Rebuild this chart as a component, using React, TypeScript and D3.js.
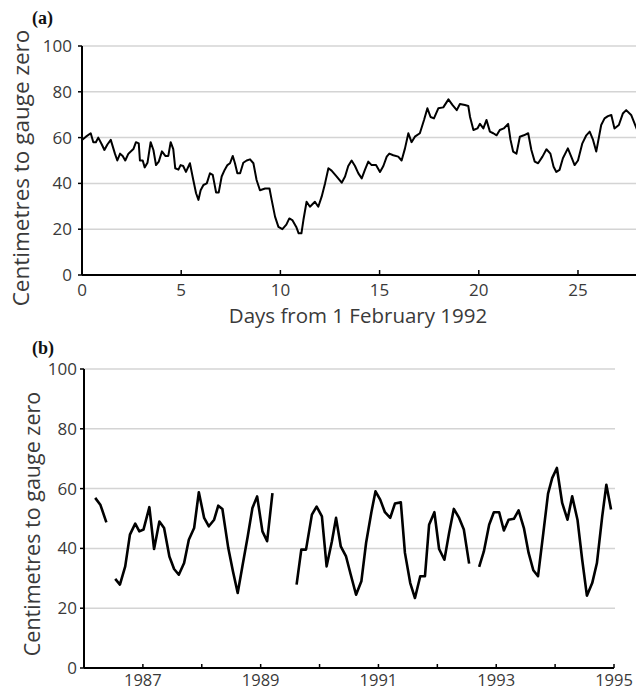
import React from "react";
import * as d3 from "d3";

// Panel (a): hourly-ish water level, February 1992
const aDays = [0,0.2,0.44,0.57,0.7,0.82,1.0,1.13,1.28,1.45,1.66,1.78,1.92,2.05,2.18,2.34,2.47,2.59,2.72,2.86,2.92,3.06,3.16,3.3,3.46,3.6,3.73,3.87,4.03,4.2,4.35,4.47,4.6,4.7,4.86,4.97,5.1,5.24,5.44,5.61,5.75,5.87,5.98,6.12,6.29,6.45,6.59,6.76,6.89,7.04,7.19,7.33,7.46,7.6,7.71,7.83,7.97,8.13,8.3,8.47,8.64,8.8,8.97,9.23,9.45,9.56,9.73,9.9,10.1,10.3,10.45,10.6,10.8,10.92,11.06,11.16,11.32,11.49,11.74,11.91,12.08,12.25,12.42,12.58,12.84,13.09,13.26,13.42,13.59,13.76,13.93,14.1,14.26,14.43,14.6,14.82,15.02,15.19,15.36,15.49,15.69,15.94,16.11,16.28,16.45,16.61,16.78,17.03,17.24,17.41,17.57,17.74,17.96,18.21,18.47,18.68,18.89,19.05,19.3,19.47,19.56,19.73,19.93,20.06,20.23,20.39,20.56,20.73,20.9,21.06,21.26,21.48,21.6,21.73,21.9,22.07,22.27,22.49,22.65,22.82,22.99,23.21,23.41,23.61,23.77,23.91,24.07,24.24,24.49,24.66,24.83,25.0,25.22,25.42,25.59,25.76,25.92,26.17,26.34,26.51,26.68,26.84,27.06,27.26,27.43,27.68,27.85,28.0];
const aLevels = [59,60.4,61.9,58,58,60,57,54.6,57,59,53,50,53,52,50,53,54,55,58,57.5,50,50,47,49,58,54.6,48,49.5,54,52,52,58,55,46.6,46,48,47.6,45,48.8,41.5,35.7,32.8,37,39.3,40,44.4,43.7,36,36,43,45.9,48,48.8,52,48.8,44.4,44.4,49,50,50.5,48.8,41.5,37,37.8,37.8,32.8,25.5,21,20,22,24.7,24,21,18.2,18.2,24,32,29.8,32,29.8,34.2,40,46.6,45.6,43,40.3,43,47.6,50,47.6,44.4,42.2,45.9,49.5,48,48,45,47.6,51.7,53,52.3,51.7,50,55.3,61.9,58,60.4,61.9,67.7,72.8,69,68.4,72.8,73.2,76.7,74.2,72,74.7,74.2,73.8,69,63.3,64,66,64,67.7,62.6,61.9,61,63.3,64,66,59,53.9,53,60.4,61,61.9,54.6,49.5,48.8,51.7,54.9,53,47.3,45,45.9,51,55.3,51.7,48,50,57.5,61,62.6,59,53.9,65.5,68.4,69.4,69.9,64,65.5,70.5,72,69.9,66.2,63];
const aXTicks = [0, 5, 10, 15, 20, 25];
const yTicks = [0, 20, 40, 60, 80, 100];

// Panel (b): monthly water level 1986-1995 (null = gap)
const bYears = [1986.19,1986.28,1986.38,1986.45,
  1986.53,1986.61,1986.70,1986.78,1986.87,1986.94,1987.01,1987.11,1987.19,1987.28,1987.36,1987.45,1987.53,1987.61,1987.70,1987.78,1987.87,1987.95,1988.04,1988.12,1988.21,1988.28,1988.35,1988.45,1988.53,1988.61,1988.69,1988.78,1988.86,1988.94,1989.03,1989.11,1989.20,1989.4,
  1989.61,1989.69,1989.77,1989.87,1989.95,1990.04,1990.12,1990.21,1990.28,1990.36,1990.45,1990.53,1990.62,1990.71,1990.79,1990.88,1990.95,1991.03,1991.11,1991.20,1991.28,1991.38,1991.45,1991.54,1991.62,1991.71,1991.79,1991.86,1991.95,1992.03,1992.12,1992.20,1992.28,1992.37,1992.45,1992.54,1992.62,
  1992.71,1992.79,1992.88,1992.96,1993.05,1993.13,1993.21,1993.30,1993.38,1993.47,1993.55,1993.63,1993.71,1993.80,1993.88,1993.95,1994.03,1994.12,1994.21,1994.29,1994.38,1994.46,1994.54,1994.63,1994.71,1994.80,1994.87,1994.95];
const bLevels = [56.9,54.5,48.7,null,
  29.8,27.9,34,44.6,48.3,45.7,46.3,53.8,39.8,49,46.8,37.3,33.1,31.2,35.1,42.9,46.8,58.8,50.2,47.4,49.6,54.3,53.2,40.1,32.3,25.1,34,44,53.5,57.4,45.7,42.4,58.5,null,
  27.9,39.6,39.6,51.3,54,50.7,34,42.4,50.2,40.7,37.3,31.2,24.5,29,41.8,52.1,59.1,56.3,52.1,50.2,55,55.4,38.5,28.4,23.4,30.7,30.7,47.9,52.1,39.8,36.2,45.2,53.2,50.2,46.3,34.9,null,
  33.8,39,47.9,52.1,52.1,46,49.6,49.9,52.7,46.8,38.5,32.7,30.7,45.2,58.3,63.5,66.9,55.2,49.6,57.4,49.6,36.2,24.2,28.4,35.1,50.7,61.3,53];
const bXTicks = [1986, 1987, 1988, 1989, 1990, 1991, 1992, 1993, 1994, 1995];
const bXLabels = [1987, 1989, 1991, 1993, 1995];

const FONT = "'Open Sans', 'Noto Sans', sans-serif";
const TXT = "#3a3a3a";
const GRID = "#d4d4d4";

export default function App() {
  // panel a scales
  const ax = d3.scaleLinear().domain([0, 28]).range([82, 637.5]);
  const ay = d3.scaleLinear().domain([0, 100]).range([275, 46]);
  // panel b scales
  const bx = d3.scaleLinear().domain([1986, 1995]).range([84, 614]);
  const by = d3.scaleLinear().domain([0, 100]).range([668, 369]);

  const aPts = aDays.map((d, i) => [d, aLevels[i]] as [number, number]);
  const aLine = d3.line<[number, number]>().x(d => ax(d[0])).y(d => ay(d[1]));
  const bPts = bYears.map((d, i) => [d, bLevels[i]] as [number, number | null]);
  const bLine = d3.line<[number, number | null]>()
    .defined(d => d[1] !== null)
    .x(d => bx(d[0]))
    .y(d => by(d[1] as number));

  return (
    <svg width={636} height={692} style={{ position: "absolute", left: 0, top: 0, background: "#fff" }}>
      <rect x={0} y={0} width={636} height={692} fill="#fff" />
      {/* ---------- Panel (a) ---------- */}
      <text x={32} y={24} fontFamily="'Liberation Serif', 'DejaVu Serif', serif" fontWeight="bold" fontSize={18} fill="#111">(a)</text>
      {yTicks.filter(t => t > 0).map(t => (
        <line key={"ag" + t} x1={ax(0)} x2={636} y1={ay(t)} y2={ay(t)} stroke={GRID} strokeWidth={1.5} />
      ))}
      {yTicks.map(t => (
        <g key={"ayt" + t}>
          <line x1={ax(0) - 4} x2={ax(0)} y1={ay(t)} y2={ay(t)} stroke="#000" strokeWidth={1.5} />
          <text x={72} y={ay(t)} dy="0.35em" textAnchor="end" fontFamily={FONT} fontSize={17} fill={TXT}>{t}</text>
        </g>
      ))}
      {aXTicks.map(t => (
        <g key={"axt" + t}>
          <line x1={ax(t)} x2={ax(t)} y1={ay(0)} y2={ay(0) - 5} stroke="#000" strokeWidth={1.5} />
          <text x={ax(t)} y={296} textAnchor="middle" fontFamily={FONT} fontSize={17} fill={TXT}>{t}</text>
        </g>
      ))}
      <line x1={ax(0)} x2={ax(0)} y1={ay(100)} y2={ay(0)} stroke="#000" strokeWidth={2} />
      <line x1={ax(0)} x2={636} y1={ay(0)} y2={ay(0)} stroke="#000" strokeWidth={2} />
      <path d={aLine(aPts) || ""} fill="none" stroke="#000" strokeWidth={2} strokeLinejoin="round" />
      <text x={358} y={323} textAnchor="middle" fontFamily={FONT} fontSize={20.5} fill={TXT}>Days from 1 February 1992</text>
      <text transform="translate(29,168) rotate(-90)" textAnchor="middle" fontFamily={FONT} fontSize={22.5} fill={TXT}>Centimetres to gauge zero</text>

      {/* ---------- Panel (b) ---------- */}
      <text x={32} y={354} fontFamily="'Liberation Serif', 'DejaVu Serif', serif" fontWeight="bold" fontSize={18} fill="#111">(b)</text>
      {yTicks.filter(t => t > 0).map(t => (
        <line key={"bg" + t} x1={bx(1986)} x2={615} y1={by(t)} y2={by(t)} stroke={GRID} strokeWidth={1.5} />
      ))}
      {yTicks.map(t => (
        <g key={"byt" + t}>
          <line x1={bx(1986) - 4} x2={bx(1986)} y1={by(t)} y2={by(t)} stroke="#000" strokeWidth={1.5} />
          <text x={77} y={by(t)} dy="0.35em" textAnchor="end" fontFamily={FONT} fontSize={17} fill={TXT}>{t}</text>
        </g>
      ))}
      {bXTicks.map(t => (
        <line key={"bxt" + t} x1={bx(t)} x2={bx(t)} y1={by(0)} y2={by(0) - 4} stroke="#000" strokeWidth={1.5} />
      ))}
      {bXLabels.map(t => (
        <text key={"bxl" + t} x={bx(t)} y={686} textAnchor="middle" fontFamily={FONT} fontSize={16.5} fill={TXT}>{t}</text>
      ))}
      <line x1={bx(1986)} x2={bx(1986)} y1={by(100)} y2={by(0)} stroke="#000" strokeWidth={2} />
      <line x1={bx(1986)} x2={bx(1995)} y1={by(0)} y2={by(0)} stroke="#000" strokeWidth={2} />
      <path d={bLine(bPts) || ""} fill="none" stroke="#000" strokeWidth={2.6} strokeLinejoin="round" />
      <text transform="translate(40,524) rotate(-90)" textAnchor="middle" fontFamily={FONT} fontSize={21.5} fill={TXT}>Centimetres to gauge zero</text>
    </svg>
  );
}
